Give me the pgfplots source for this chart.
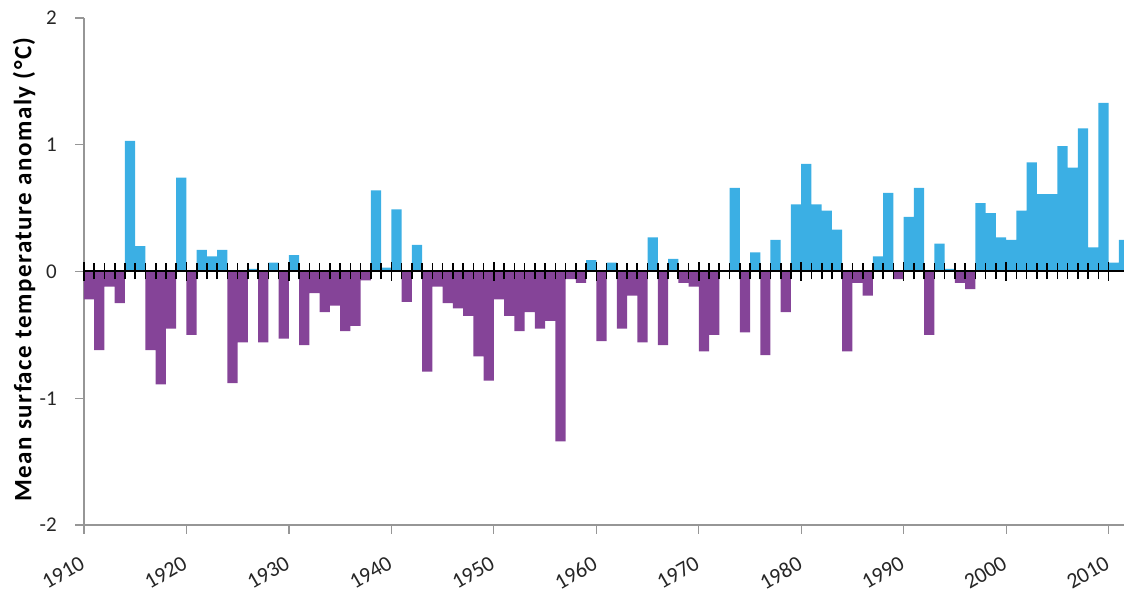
\documentclass[border=0pt]{standalone}
\usepackage{fontspec}
\setmainfont{Carlito}
\newfontfamily\labelfont[LetterSpace=6]{Carlito}
\usepackage{pgfplots}
\pgfplotsset{compat=1.18}
\definecolor{barblue}{RGB}{59,175,228}
\definecolor{barpurple}{RGB}{133,68,152}
\definecolor{axgray}{RGB}{150,150,150}
\begin{document}
\begin{tikzpicture}
\path[use as bounding box] (-84pt,-71pt) rectangle (1040pt,525pt);
\begin{axis}[
 at={(0,0)}, anchor=south west,
 scale only axis, width=1040pt, height=507pt,
 xmin=1910, xmax=2011.5, ymin=-2, ymax=2,
 axis x line*=bottom, axis y line*=left,
 axis line style={axgray, line width=1.3pt},
 xtick={1910,1920,...,2010},
 xticklabels={1910,1920,1930,1940,1950,1960,1970,1980,1990,2000,2010},
 ytick={-2,-1,0,1,2},
 yticklabels={-2,-1,0,1,2},
 tick align=outside,
 major tick length=9pt,
 tick style={axgray, line width=1.3pt},
 tick label style={text=black!85},
 xticklabel style={font=\fontsize{22}{26}\selectfont, yshift=-21pt, xshift=-5pt, rotate=30, anchor=north east, inner sep=0pt},
 yticklabel style={font=\fontsize{21}{25}\selectfont, anchor=east, inner sep=0pt, xshift=-18pt},
 ylabel={Mean surface temperature anomaly (°C)},
 every axis y label/.style={at={(axis description cs:0,0.5)}, xshift=-60pt, yshift=2pt, rotate=90, anchor=center, font=\labelfont\bfseries\fontsize{25}{29}\selectfont},
 clip=true,
]
\addplot[ybar, bar width=1, bar shift=0pt, fill=barblue, draw=none] coordinates {
(1914.5,1.03) (1915.5,0.20) (1919.5,0.74) (1921.5,0.17) (1922.5,0.12) (1923.5,0.17)
(1926.5,0.02) (1928.5,0.07) (1930.5,0.13) (1938.5,0.64) (1939.5,0.03) (1940.5,0.49)
(1942.5,0.21) (1959.5,0.09) (1961.5,0.07) (1965.5,0.27) (1967.5,0.10) (1973.5,0.66)
(1975.5,0.15) (1977.5,0.25) (1979.5,0.53) (1980.5,0.85) (1981.5,0.53) (1982.5,0.48)
(1983.5,0.33) (1987.5,0.12) (1988.5,0.62) (1990.5,0.43) (1991.5,0.66) (1993.5,0.22)
(1994.5,0.02) (1997.5,0.54) (1998.5,0.46) (1999.5,0.27) (2000.5,0.25) (2001.5,0.48)
(2002.5,0.86) (2003.5,0.61) (2004.5,0.61) (2005.5,0.99) (2006.5,0.82) (2007.5,1.13)
(2008.5,0.19) (2009.5,1.33) (2010.5,0.07) (2011.5,0.25)
};
\addplot[ybar, bar width=1, bar shift=0pt, fill=barpurple, draw=none] coordinates {
(1910.5,-0.22) (1911.5,-0.62) (1912.5,-0.12) (1913.5,-0.25) (1916.5,-0.62) (1917.5,-0.89)
(1918.5,-0.45) (1920.5,-0.50) (1924.5,-0.88) (1925.5,-0.56) (1927.5,-0.56) (1929.5,-0.53)
(1931.5,-0.58) (1932.5,-0.17) (1933.5,-0.32) (1934.5,-0.27) (1935.5,-0.47) (1936.5,-0.43)
(1937.5,-0.07) (1941.5,-0.24) (1943.5,-0.79) (1944.5,-0.12) (1945.5,-0.25) (1946.5,-0.29)
(1947.5,-0.35) (1948.5,-0.67) (1949.5,-0.86) (1950.5,-0.22) (1951.5,-0.35) (1952.5,-0.47)
(1953.5,-0.32) (1954.5,-0.45) (1955.5,-0.39) (1956.5,-1.34) (1957.5,-0.06) (1958.5,-0.09)
(1960.5,-0.55) (1962.5,-0.45) (1963.5,-0.19) (1964.5,-0.56) (1966.5,-0.58) (1968.5,-0.09)
(1969.5,-0.12) (1970.5,-0.63) (1971.5,-0.50) (1974.5,-0.48) (1976.5,-0.66) (1978.5,-0.32)
(1984.5,-0.63) (1985.5,-0.09) (1986.5,-0.19) (1989.5,-0.06) (1992.5,-0.50) (1995.5,-0.09)
(1996.5,-0.14)
};
\end{axis}
\begin{axis}[
 at={(0,0)}, anchor=south west,
 scale only axis, width=1040pt, height=507pt,
 xmin=1910, xmax=2011.5, ymin=-2, ymax=2,
 axis x line=middle, axis y line=none,
 axis line style={-, black, line width=2pt},
 xtick={1910,1920,...,2010},
 xticklabels={},
 minor x tick num=9,
 ytick=\empty,
 tick align=center,
 major tick length=19pt, minor tick length=16pt,
 tick style={black, line width=1.6pt},
 minor tick style={black, line width=1.6pt},
]
\end{axis}
\end{tikzpicture}
\end{document}
